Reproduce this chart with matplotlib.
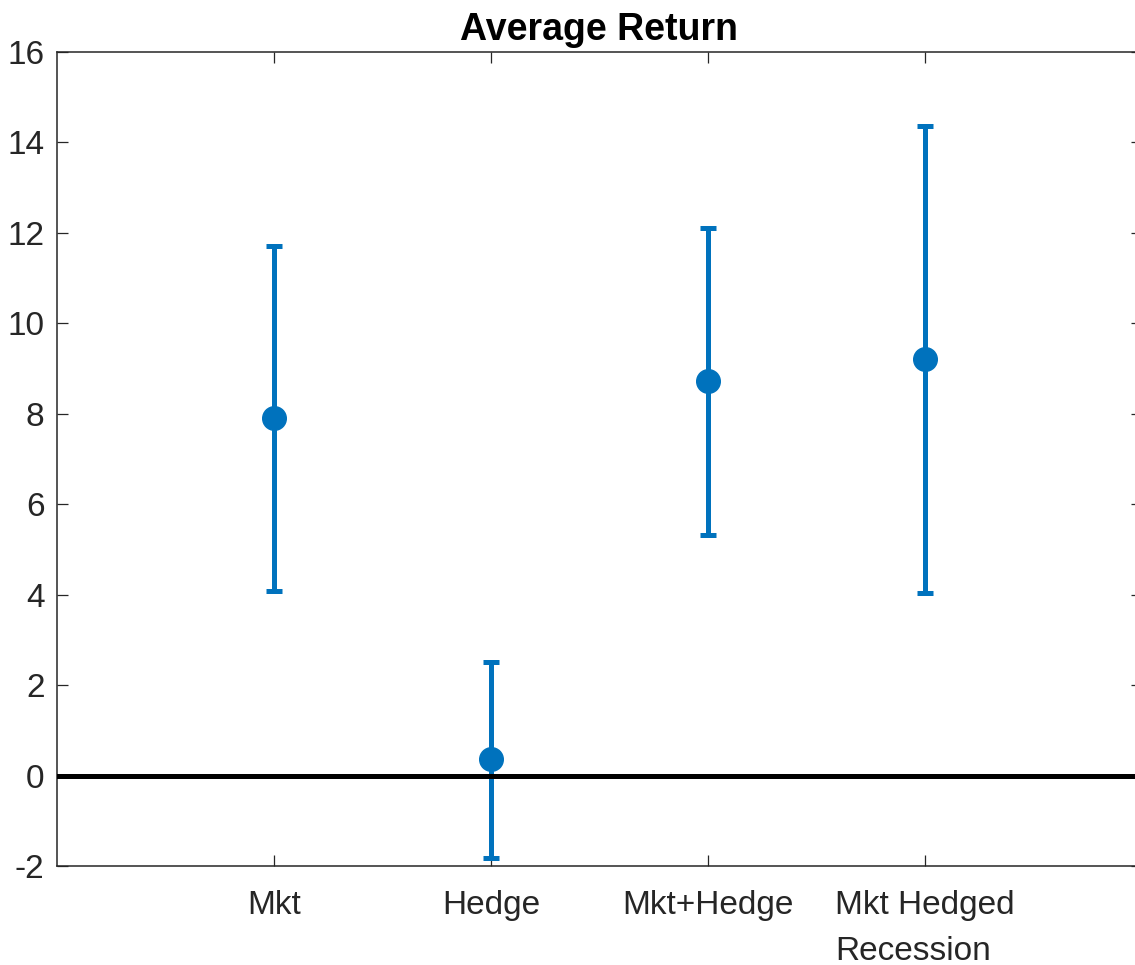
import matplotlib
matplotlib.use("Agg")
import matplotlib.pyplot as plt

categories = ["Mkt", "Hedge", "Mkt+Hedge", "Mkt Hedged\nRecession"]
means = [7.90, 0.37, 8.72, 9.22]
upper = [11.70, 2.52, 12.10, 14.37]
lower = [4.08, -1.82, 5.32, 4.03]
yticks = [-2, 0, 2, 4, 6, 8, 10, 12, 14, 16]

plt.rcParams['font.family'] = ['Liberation Sans', 'DejaVu Sans']

fig = plt.figure(figsize=(11.35, 9.65), dpi=100)
ax = fig.add_axes([57/1135, (965-866)/965, 1085/1135, 814/965])

x = list(range(1, len(categories) + 1))
yerr = [[m - l for m, l in zip(means, lower)], [u - m for m, u in zip(means, upper)]]
blue = '#0072BD'
ax.errorbar(x, means, yerr=yerr, fmt='o', color=blue, ecolor=blue,
            elinewidth=3.6, capsize=5.8, capthick=3.6, markersize=17, zorder=2)
ax.axhline(0, color='black', lw=3.6, zorder=3)

ax.set_xlim(0, 5)
ax.set_ylim(-2, 16)
ax.set_xticks(x)
ax.set_xticklabels(categories, multialignment='left', linespacing=1.62)
ax.set_yticks(yticks)
ax.set_yticklabels([str(t) for t in yticks])

dark = '#262626'
for s in ax.spines.values():
    s.set_color(dark)
    s.set_linewidth(1.1)
ax.tick_params(direction='in', length=8, width=0.9, color=dark, labelcolor=dark,
               labelsize=24, top=True, right=True)
ax.tick_params(axis='x', pad=17.5)
ax.tick_params(axis='y', pad=9)
ax.set_title("Average Return", fontsize=27, fontweight='bold', pad=9)

fig.savefig("out.png", dpi=100)
